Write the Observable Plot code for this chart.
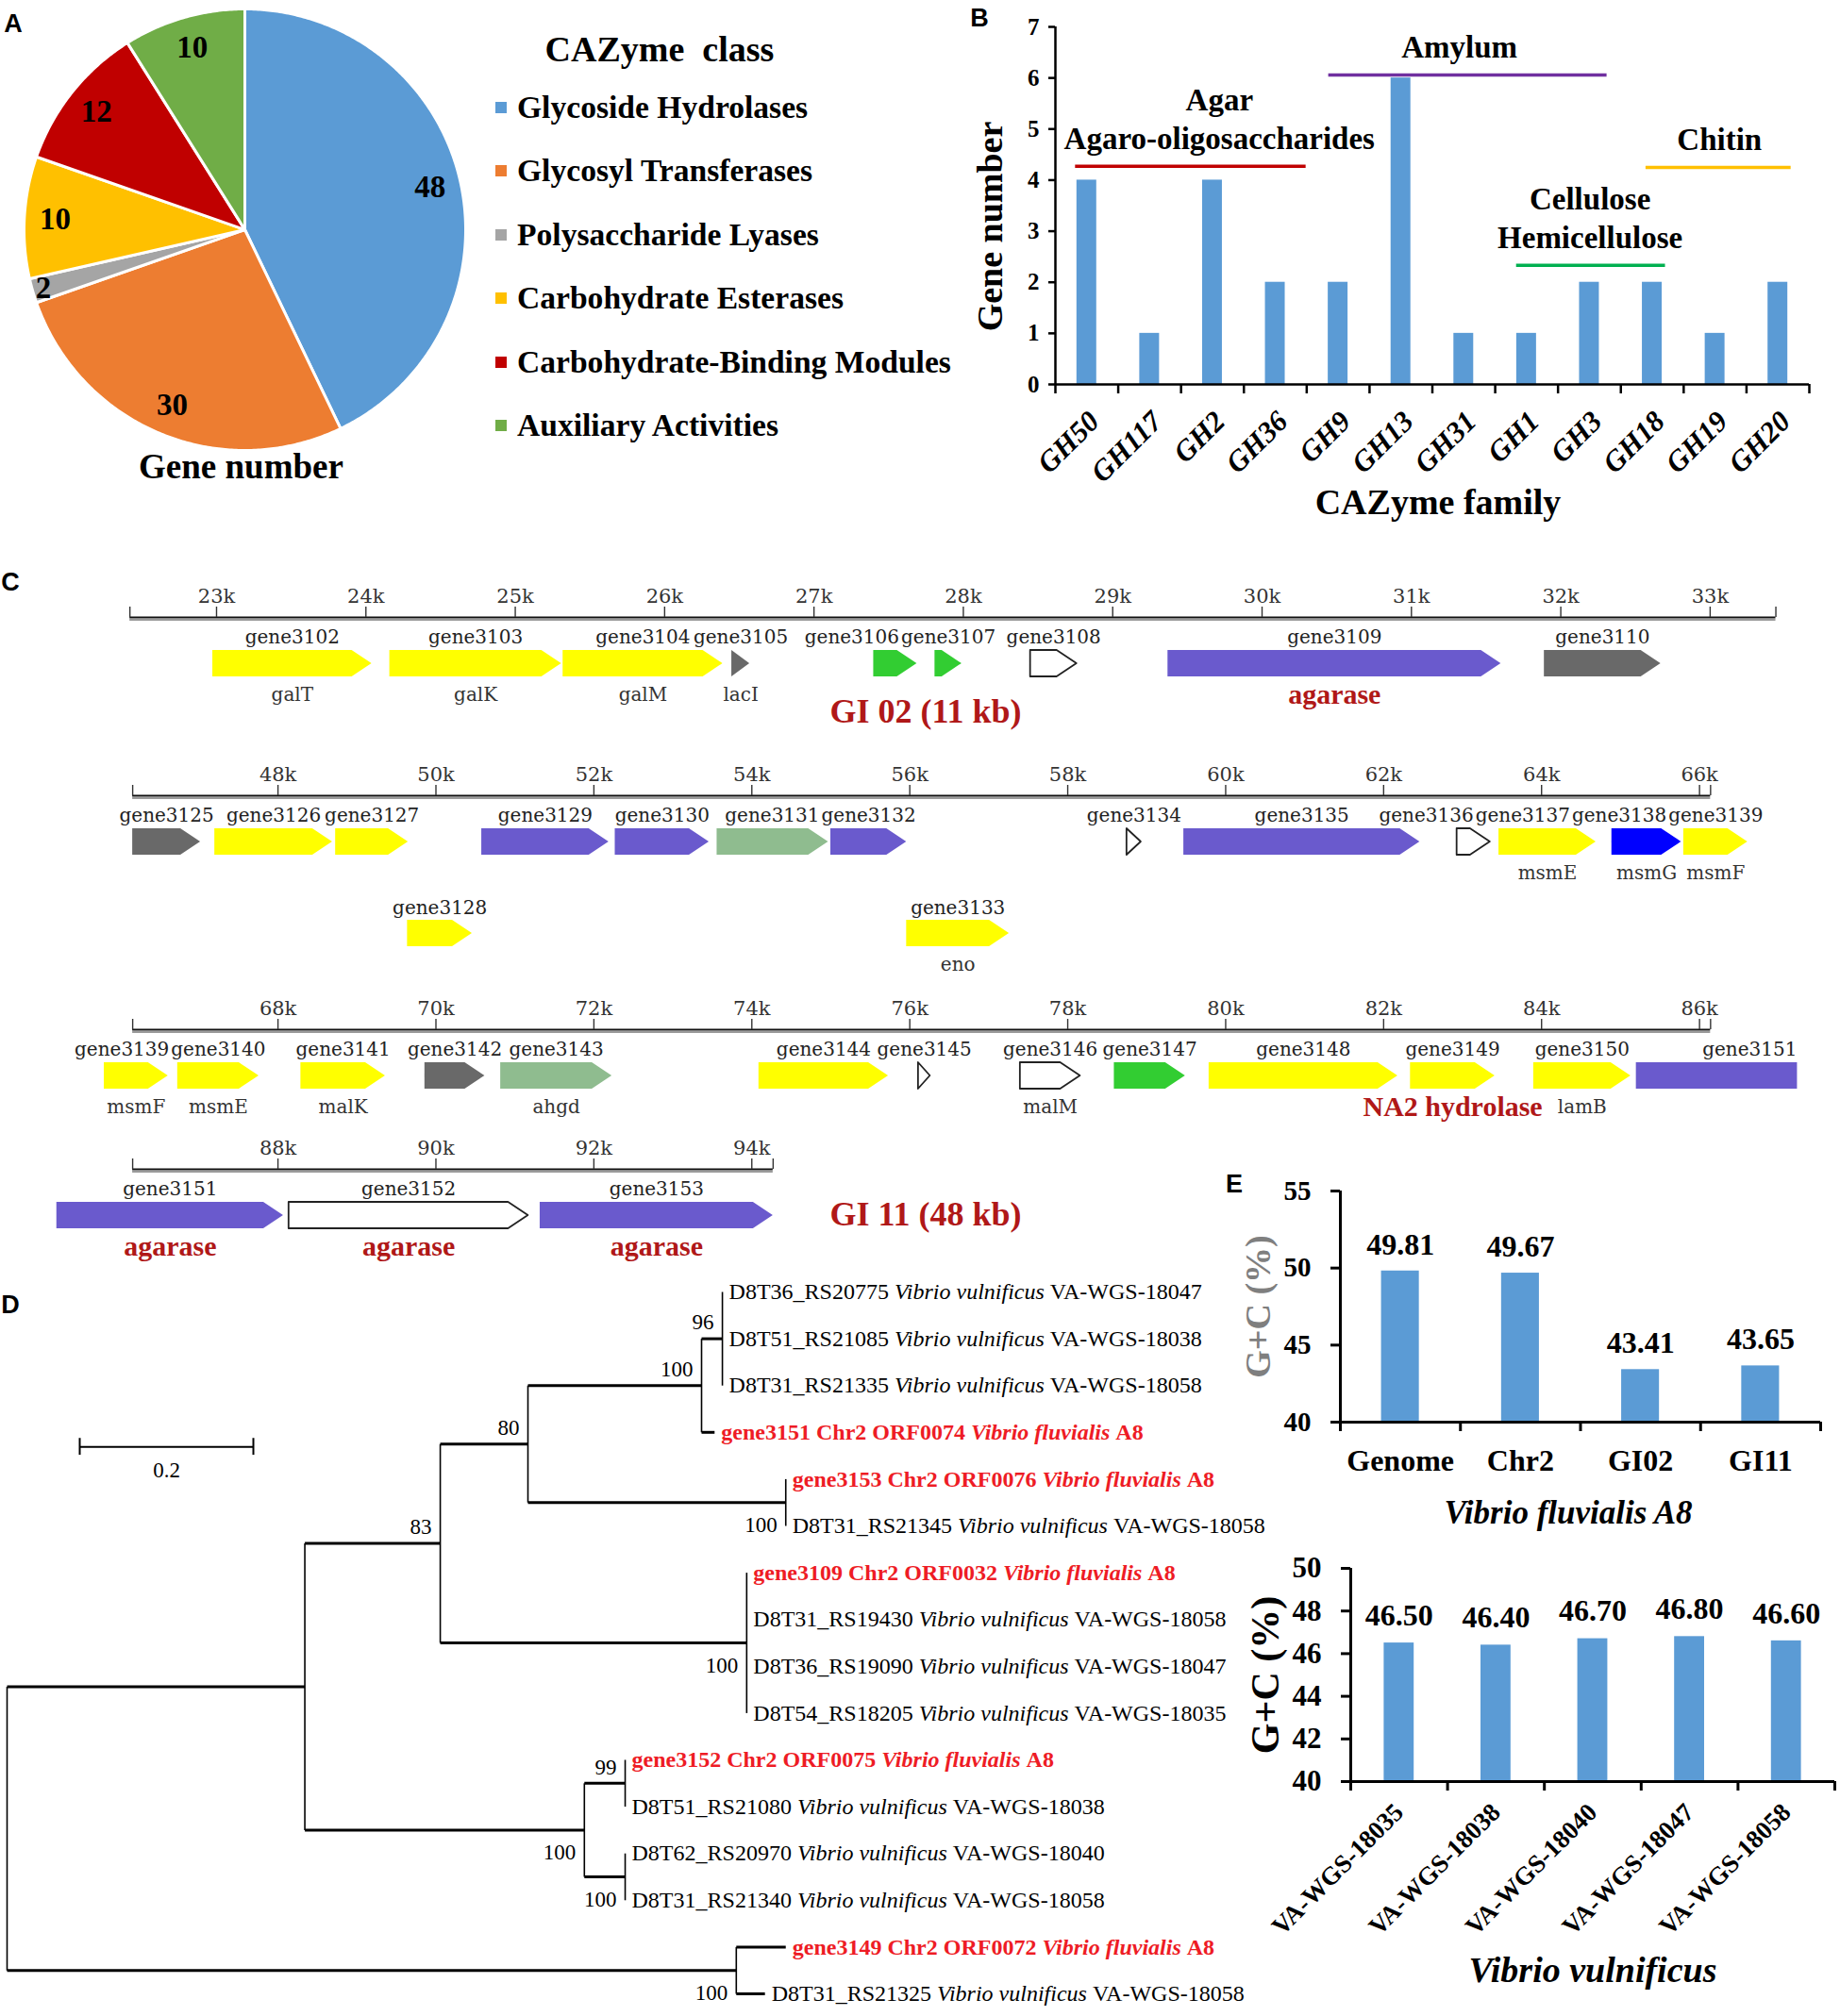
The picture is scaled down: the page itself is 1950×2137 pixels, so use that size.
<!DOCTYPE html>
<html><head><meta charset="utf-8">
<script src="https://cdn.jsdelivr.net/npm/d3@7"></script>
<script src="https://cdn.jsdelivr.net/npm/@observablehq/plot@0.6"></script>
<style>
html,body{margin:0;padding:0;background:#fff;}
#page{position:relative;width:1950px;height:2137px;overflow:hidden;background:#fff;}
</style></head><body><div id="page"></div>
<script>
// ======================= DATA =======================
// Panel A – CAZyme classes
const cazyClasses = ["Glycoside Hydrolases","Glycosyl Transferases","Polysaccharide Lyases","Carbohydrate Esterases","Carbohydrate-Binding Modules","Auxiliary Activities"];
const cazyCounts = [48,30,2,10,12,10];

// Panel B – GH families
const ghFamilies = ["GH50","GH117","GH2","GH36","GH9","GH13","GH31","GH1","GH3","GH18","GH19","GH20"];
const ghCounts = [4,1,4,2,2,6,1,1,2,2,1,2];
const yTicksB = [0,1,2,3,4,5,6,7];
const substrateNames = [["Agar","Agaro-oligosaccharides"],["Amylum"],["Cellulose","Hemicellulose"],["Chitin"]];
const substrateFrom = [0.32,4.35,7.34,9.40];   // in family-index units
const substrateTo = [3.99,8.78,9.71,11.71];
const substrateLevel = [4.27,6.06,2.33,4.25];  // gene-number units
const substrateTextX = [2.61,6.43,8.51,10.57];

// Panel C – genomic islands (kb)
const rulerStart = [22.42,46.16,66.16,86.16];
const rulerEnd = [33.44,66.14,86.14,94.27];
const rulerStep = [1,2,2,2];
// [name, start kb, end kb, group, lane, product]
const giGenes = [
 ["gene3102",22.975,24.04,"Y",0,"galT"],
 ["gene3103",24.16,25.31,"Y",0,"galK"],
 ["gene3104",25.32,26.39,"Y",0,"galM"],
 ["gene3105",26.45,26.57,"D",0,"lacI"],
 ["gene3106",27.40,27.69,"G",0,""],
 ["gene3107",27.81,27.99,"G",0,""],
 ["gene3108",28.45,28.76,"W",0,""],
 ["gene3109",29.37,31.60,"P",0,"agarase"],
 ["gene3110",31.89,32.67,"D",0,""],
 ["gene3125",46.16,47.02,"D",0,""],
 ["gene3126",47.20,48.69,"Y",0,""],
 ["gene3127",48.73,49.65,"Y",0,""],
 ["gene3128",49.64,50.46,"Y",1,""],
 ["gene3129",50.58,52.19,"P",0,""],
 ["gene3130",52.27,53.46,"P",0,""],
 ["gene3131",53.56,54.97,"S",0,""],
 ["gene3132",55.00,55.96,"P",0,""],
 ["gene3133",55.96,57.26,"Y",1,"eno"],
 ["gene3134",58.75,58.93,"W",0,""],
 ["gene3135",59.47,62.46,"P",0,""],
 ["gene3136",62.93,63.35,"W",0,""],
 ["gene3137",63.46,64.69,"Y",0,"msmE"],
 ["gene3138",64.89,65.77,"B",0,"msmG"],
 ["gene3139",65.80,66.61,"Y",0,"msmF"],
 ["gene3140",66.73,67.76,"Y",0,"msmE"],
 ["gene3141",68.29,69.36,"Y",0,"malK"],
 ["gene3142",69.86,70.62,"D",0,""],
 ["gene3143",70.82,72.23,"S",0,"ahgd"],
 ["gene3144",74.09,75.73,"Y",0,""],
 ["gene3145",76.11,76.26,"W",0,""],
 ["gene3146",77.40,78.16,"W",0,"malM"],
 ["gene3147",78.59,79.49,"G",0,""],
 ["gene3148",79.79,82.18,"Y",0,""],
 ["gene3149",82.34,83.41,"Y",0,"NA2 hydrolase"],
 ["gene3150",83.90,85.13,"Y",0,"lamB"],
 ["gene3151",85.20,88.07,"P",0,"agarase"],
 ["gene3152",88.14,91.17,"W",0,"agarase"],
 ["gene3153",91.32,94.27,"P",0,"agarase"]
];
const islandTitles = ["GI 02 (11 kb)","GI 11 (48 kb)"];

// Panel D – phylogeny
const leafLocus = ["D8T36_RS20775","D8T51_RS21085","D8T31_RS21335","gene3151 Chr2 ORF0074","gene3153 Chr2 ORF0076","D8T31_RS21345","gene3109 Chr2 ORF0032","D8T31_RS19430","D8T36_RS19090","D8T54_RS18205","gene3152 Chr2 ORF0075","D8T51_RS21080","D8T62_RS20970","D8T31_RS21340","gene3149 Chr2 ORF0072","D8T31_RS21325"];
const leafSpecies = ["Vibrio vulnificus","Vibrio vulnificus","Vibrio vulnificus","Vibrio fluvialis","Vibrio fluvialis","Vibrio vulnificus","Vibrio fluvialis","Vibrio vulnificus","Vibrio vulnificus","Vibrio vulnificus","Vibrio fluvialis","Vibrio vulnificus","Vibrio vulnificus","Vibrio vulnificus","Vibrio fluvialis","Vibrio vulnificus"];
const leafStrain = ["VA-WGS-18047","VA-WGS-18038","VA-WGS-18058","A8","A8","VA-WGS-18058","A8","VA-WGS-18058","VA-WGS-18047","VA-WGS-18035","A8","VA-WGS-18038","VA-WGS-18040","VA-WGS-18058","A8","VA-WGS-18058"];
// l = branch length, b = bootstrap, leaf = leaf index
const phyloTree = {l:0, c:[
  {l:0.343, c:[
    {l:0.156, b:83, c:[
      {l:0.101, b:80, c:[
        {l:0.200, b:100, c:[
          {l:0.024, b:96, c:[{leaf:0,l:0},{leaf:1,l:0},{leaf:2,l:0}]},
          {leaf:3, l:0.015}
        ]},
        {l:0.297, b:100, c:[{leaf:4,l:0},{leaf:5,l:0}]}
      ]},
      {l:0.353, b:100, c:[{leaf:6,l:0},{leaf:7,l:0},{leaf:8,l:0},{leaf:9,l:0}]}
    ]},
    {l:0.322, b:100, c:[
      {l:0.047, b:99, c:[{leaf:10,l:0},{leaf:11,l:0}]},
      {l:0.047, b:100, c:[{leaf:12,l:0},{leaf:13,l:0}]}
    ]}
  ]},
  {l:0.840, b:100, c:[{leaf:14,l:0.057},{leaf:15,l:0.033}]}
]};
const scaleBarLength = 0.2;

// Panel E – G+C content
const a8Regions = ["Genome","Chr2","GI02","GI11"];
const a8GC = [49.81,49.67,43.41,43.65];
const yTicksE1 = [40,45,50,55];
const vvStrains = ["VA-WGS-18035","VA-WGS-18038","VA-WGS-18040","VA-WGS-18047","VA-WGS-18058"];
const vvGC = [46.50,46.40,46.70,46.80,46.60];
const yTicksE2 = [40,42,44,46,48,50];

// ======================= STYLE =======================
const SERIF = "Liberation Serif";
const BLUE = "#5B9BD5";
const DARKRED = "#B01818";
const cazyColors = ["#5B9BD5","#ED7D31","#A5A5A5","#FFC000","#C00000","#70AD47"];
const substrateColors = ["#C00000","#7030A0","#00B050","#FFC000"];
const geneColors = {Y:"#FFFF00",P:"#6A5ACD",D:"#696969",G:"#32CD32",S:"#8FBC8F",B:"#0000FF",W:"#FFFFFF"};
const INSET = 0.3425;
const ST = {background:"transparent",overflow:"visible",maxWidth:"none",fontFamily:SERIF,color:"#000"};
const intFmt = d => String(d);

const page = document.getElementById("page");
function place(el,left,top){el.style.position="absolute";el.style.left=left+"px";el.style.top=top+"px";page.appendChild(el);}
function htmlText(str,x,y,css,anchor){const d=document.createElement("div");d.textContent=str;
  Object.assign(d.style,{position:"absolute",left:x+"px",top:y+"px",transform:anchor==="start"?"translate(0,-50%)":"translate(-50%,-50%)",whiteSpace:"pre",lineHeight:"1",fontFamily:SERIF,fontWeight:"bold"},css||{});page.appendChild(d);return d;}
const ctx = document.createElement("canvas").getContext("2d");
function tw(s,font){ctx.font=font;return ctx.measureText(s).width;}

// ======================= PANEL A =======================
{
  const W=520,H=520,cx=259,cy=243,R=234;
  const arcs=d3.pie().sort(null)(cazyCounts);
  const pts=[];
  arcs.forEach((a,k)=>{
    const n=Math.max(2,Math.ceil((a.endAngle-a.startAngle)/0.01));
    pts.push({k,x:0,y:0});
    for(let j=0;j<=n;j++){const t=a.startAngle+(a.endAngle-a.startAngle)*j/n;pts.push({k,x:Math.sin(t),y:-Math.cos(t)});}
    pts.push({k,x:0,y:0});
  });
  const labs=arcs.map((a,k)=>{const m=(a.startAngle+a.endAngle)/2,f=cazyCounts[k]<5?0.95:0.86;return {x:f*Math.sin(m),y:-f*Math.cos(m),t:String(cazyCounts[k])};});
  const p=Plot.plot({width:W,height:H,margin:0,style:ST,
    x:{domain:[-cx/R,(W-cx)/R],range:[0,W],axis:null},
    y:{domain:[-cy/R,(H-cy)/R],range:[0,H],axis:null},
    color:{type:"identity"},
    marks:[
      Plot.line(pts,{x:"x",y:"y",z:"k",fill:d=>cazyColors[d.k],stroke:"#fff",strokeWidth:3,strokeLinejoin:"round",curve:"linear"}),
      Plot.text(labs,{x:"x",y:"y",text:"t",fontSize:33,fontWeight:"bold",fontFamily:SERIF,fill:"#000"}),
      Plot.text(["Gene number"],{x:0,y:1,text:d=>d,dy:18,dx:-4,fontSize:37,fontWeight:"bold",fontFamily:SERIF})
    ]});
  place(p,0,0);
  // legend
  htmlText("CAZyme  class",699,52,{fontSize:"38px"});
  cazyClasses.forEach((c,i)=>{
    const y=114+i*67.4;
    const sw=document.createElement("div");
    Object.assign(sw.style,{position:"absolute",left:"525px",top:(y-6)+"px",width:"12px",height:"12px",background:cazyColors[i]});
    page.appendChild(sw);
    htmlText(c,548,y,{fontSize:"33.6px"},"start");
  });
}

// ======================= PANEL B =======================
{
  const n=ghFamilies.length;
  const rows=ghFamilies.map((f,i)=>({f,i,v:ghCounts[i]}));
  const subs=substrateNames.map((lines,k)=>({k,s:substrateFrom[k],e:substrateTo[k],lv:substrateLevel[k],tx:substrateTextX[k],col:substrateColors[k],lines}));
  const lastLine=subs.map(d=>({x:d.tx,y:d.lv,t:d.lines[d.lines.length-1]}));
  const prevLine=subs.filter(d=>d.lines.length>1).map(d=>({x:d.tx,y:d.lv,t:d.lines[0]}));
  const txt={fontFamily:SERIF,fontWeight:"bold"};
  const p=Plot.plot({width:930,height:560,marginLeft:98,marginRight:33,marginTop:28,marginBottom:153,style:ST,
    x:{domain:[0,n],axis:null},y:{domain:[0,7]},color:{type:"identity"},
    marks:[
      Plot.rect(rows,{x1:d=>d.i+INSET,x2:d=>d.i+1-INSET,y1:0,y2:"v",fill:BLUE}),
      Plot.ruleX([0],{y1:0,y2:7,strokeWidth:2.5}),
      Plot.ruleY([0],{x1:0,x2:n,strokeWidth:2.5}),
      Plot.axisY(yTicksB,{anchor:"left",tickSize:7,tickPadding:10,tickFormat:intFmt,strokeWidth:2.5,fontSize:25,...txt,label:null}),
      Plot.axisX(d3.range(0,n+1),{anchor:"bottom",tickSize:10,tickFormat:()=>"",strokeWidth:2.5,label:null}),
      Plot.text(rows,{x:d=>d.i+0.5,y:0,text:"f",rotate:-45,textAnchor:"end",lineAnchor:"middle",dx:8,dy:34,fontSize:31,fontStyle:"italic",...txt}),
      Plot.ruleY(subs,{y:"lv",x1:"s",x2:"e",stroke:"col",strokeWidth:3.5}),
      Plot.text(lastLine,{x:"x",y:"y",text:"t",dy:-29,fontSize:33,...txt}),
      Plot.text(prevLine,{x:"x",y:"y",text:"t",dy:-70,fontSize:33,...txt}),
      Plot.text(["Gene number"],{frameAnchor:"left",textAnchor:"middle",lineAnchor:"middle",rotate:-90,dx:-69,dy:22,fontSize:38,...txt}),
      Plot.text(["CAZyme family"],{frameAnchor:"bottom",textAnchor:"middle",lineAnchor:"middle",dx:6,dy:125,fontSize:38,...txt})
    ]});
  place(p,1020,0);
}

// ======================= PANEL C =======================
{
  const TRACK_LAYOUT=[
    {refKb:23,refPx:229,ppk:158.3,rulerY:654},
    {refKb:48,refPx:294,ppk:83.7,rulerY:843},
    {refKb:68,refPx:294,ppk:83.7,rulerY:1091},
    {refKb:88,refPx:294,ppk:83.7,rulerY:1239}
  ];
  const GENE_FS=20, GENE_FONT=GENE_FS+"px 'DejaVu Serif'";
  const genes=giGenes.map(([name,s,e,grp,lane,prod])=>({name,s,e,grp,lane,prod}));
  const laneY=[49,146],laneLab=[21,119],laneProd=[82,179];
  rulerStart.forEach((rs,ti)=>{
    const re=rulerEnd[ti],step=rulerStep[ti],L=TRACK_LAYOUT[ti],vm=1.1;
    const vs=rs-vm,ve=re+vm;
    const left=L.refPx+(vs-L.refKb)*L.ppk,W=(ve-vs)*L.ppk,top=L.rulerY-60,H=260;
    const tg=genes.filter(g=>g.e>rs&&g.s<re);
    const tipKb=21/L.ppk,hh=14;
    const poly=[];
    for(const g of tg){
      const yc=laneY[g.lane],ts=Math.max(g.s,g.e-tipKb);
      poly.push({id:g.name,grp:g.grp,x:g.s,y1:yc-hh,y2:yc+hh});
      if(ts>g.s)poly.push({id:g.name,grp:g.grp,x:ts,y1:yc-hh,y2:yc+hh});
      poly.push({id:g.name,grp:g.grp,x:g.e,y1:yc,y2:yc});
    }
    const labs=[];
    for(const lane of [0,1]){
      const items=tg.filter(g=>g.lane===lane).map(g=>({name:g.name,lane,c:(g.s+g.e)/2,w:(tw(g.name,GENE_FONT)+2)/L.ppk})).sort((a,b)=>a.c-b.c);
      for(let i=items.length-2;i>=0;i--){const lim=items[i+1].c-items[i+1].w/2;if(items[i].c+items[i].w/2>lim)items[i].c=lim-items[i].w/2;}
      labs.push(...items);
    }
    const prods=tg.filter(g=>g.prod&&g.e<=ve).map(g=>({t:g.prod,lane:g.lane,c:(g.s+g.e)/2,red:/ase$/.test(g.prod)}));
    const ticks=d3.range(Math.ceil(rs/step-1e-9)*step,re+1e-9,step);
    const p=Plot.plot({width:W,height:H,margin:0,style:ST,
      x:{domain:[vs,ve],range:[0,W],axis:null},y:{domain:[-60,200],range:[0,H],axis:null},color:{type:"identity"},
      marks:[
        Plot.ruleY([0],{x1:rs,x2:re,dy:2.5,stroke:"#9a9a9a",strokeWidth:2}),
        Plot.ruleY([0],{x1:rs,x2:re,stroke:"#111",strokeWidth:2.2}),
        Plot.ruleX([rs,...ticks,re],{y1:-11,y2:0,stroke:"#333",strokeWidth:1.4}),
        Plot.text(ticks,{x:d=>d,y:-22,text:d=>d+"k",fontFamily:"DejaVu Serif",fontSize:21,fill:"#333"}),
        Plot.area(poly.filter(d=>d.grp!=="W"),{x1:"x",y1:"y1",y2:"y2",z:"id",fill:d=>geneColors[d.grp],clip:true,curve:"linear"}),
        Plot.area(poly.filter(d=>d.grp==="W"),{x1:"x",y1:"y1",y2:"y2",z:"id",fill:"#fff",stroke:"#222",strokeWidth:1.8,clip:true,curve:"linear"}),
        Plot.text(labs,{x:"c",y:d=>laneLab[d.lane],text:"name",fontFamily:"DejaVu Serif",fontSize:GENE_FS,fill:"#222"}),
        Plot.text(prods.filter(d=>!d.red),{x:"c",y:d=>laneProd[d.lane],text:"t",fontFamily:"DejaVu Serif",fontSize:20,fill:"#333"}),
        Plot.text(prods.filter(d=>d.red),{x:"c",y:d=>laneProd[d.lane],text:"t",fontFamily:SERIF,fontWeight:"bold",fontSize:30,fill:DARKRED})
      ]});
    place(p,left,top);
  });
  htmlText(islandTitles[0],981,754,{fontSize:"36px",color:DARKRED});
  htmlText(islandTitles[1],981,1287,{fontSize:"36px",color:DARKRED});
}

// ======================= PANEL D =======================
{
  const PXU=920,GAP=7;
  const nodes=[];
  (function lay(node,depth,parent,idx){
    node.depth=depth+node.l;node.parent=parent;node.idx=idx;nodes.push(node);
    if(node.c){node.c.forEach((ch,j)=>lay(ch,node.depth,node,j));node.y=(node.c[0].y+node.c[node.c.length-1].y)/2;}
    else node.y=node.leaf;
  })(phyloTree,0,null,0);
  const horiz=nodes.filter(d=>d.parent).map(d=>({x1:d.parent.depth,x2:d.depth,y:d.y}));
  const vert=nodes.filter(d=>d.c).map(d=>({x:d.depth,y1:d.c[0].y,y2:d.c[d.c.length-1].y}));
  const boot=nodes.filter(d=>d.b!=null);
  const parts=[];
  nodes.filter(d=>d.leaf!=null).forEach(d=>{
    const i=d.leaf,a8=/fluvialis/.test(leafSpecies[i]);
    const fs=24,w=a8?"bold ":"";
    const f1=`${w}${fs}px '${SERIF}'`,f2=`italic ${w}${fs}px '${SERIF}'`;
    const o1=tw(leafLocus[i]+" ",f1),o2=o1+tw(leafSpecies[i],f2)+tw(" ",f1);
    parts.push({a8,it:false,t:leafLocus[i],x:d.depth+GAP/PXU,y:d.y});
    parts.push({a8,it:true,t:leafSpecies[i],x:d.depth+(GAP+o1)/PXU,y:d.y});
    parts.push({a8,it:false,t:leafStrain[i],x:d.depth+(GAP+o2)/PXU,y:d.y});
  });
  const sbx=0.0837,sby=3.31;
  const lt=(f)=>({fontFamily:SERIF,textAnchor:"start",...f});
  const p=Plot.plot({width:1350,height:797,margin:0,style:ST,
    x:{domain:[0,(1350-7)/PXU],range:[7,1350],axis:null},y:{domain:[0,15],range:[29,773],axis:null},
    marks:[
      Plot.link(horiz,{x1:"x1",x2:"x2",y1:"y",y2:"y",stroke:"#000",strokeWidth:3}),
      Plot.link(vert,{x1:"x",x2:"x",y1:"y1",y2:"y2",stroke:"#000",strokeWidth:1.6}),
      Plot.text(boot.filter(d=>d.idx===0),{x:"depth",y:"y",text:"b",textAnchor:"end",dx:-9,dy:-17,fontSize:23,fontFamily:SERIF}),
      Plot.text(boot.filter(d=>d.idx>0),{x:"depth",y:"y",text:"b",textAnchor:"end",dx:-9,dy:24,fontSize:23,fontFamily:SERIF}),
      Plot.text(parts.filter(d=>!d.a8&&!d.it),{x:"x",y:"y",text:"t",...lt({fontSize:24,fill:"#000"})}),
      Plot.text(parts.filter(d=>!d.a8&&d.it),{x:"x",y:"y",text:"t",...lt({fontSize:24,fontStyle:"italic",fill:"#000"})}),
      Plot.text(parts.filter(d=>d.a8&&!d.it),{x:"x",y:"y",text:"t",...lt({fontSize:24,fontWeight:"bold",fill:"#EE1C25"})}),
      Plot.text(parts.filter(d=>d.a8&&d.it),{x:"x",y:"y",text:"t",...lt({fontSize:24,fontWeight:"bold",fontStyle:"italic",fill:"#EE1C25"})}),
      Plot.link([{a:sbx,b:sbx+scaleBarLength}],{x1:"a",x2:"b",y1:sby,y2:sby,strokeWidth:2}),
      Plot.ruleX([sbx,sbx+scaleBarLength],{y1:sby-0.18,y2:sby+0.18,strokeWidth:2}),
      Plot.text([scaleBarLength],{x:sbx+scaleBarLength/2,y:sby,text:d=>String(d),dy:25,fontSize:23,fontFamily:SERIF})
    ]});
  place(p,0,1340);
}

// ======================= PANEL E =======================
{
  const txt={fontFamily:SERIF,fontWeight:"bold"};
  const rows=a8Regions.map((c,i)=>({c,i,v:a8GC[i]}));
  const p=Plot.plot({width:650,height:420,marginLeft:120,marginRight:21,marginTop:32,marginBottom:143,style:ST,
    x:{domain:[0,rows.length],axis:null},y:{domain:[40,55]},
    marks:[
      Plot.rect(rows,{x1:d=>d.i+INSET,x2:d=>d.i+1-INSET,y1:40,y2:"v",fill:BLUE}),
      Plot.ruleX([0],{y1:40,y2:55,strokeWidth:3}),
      Plot.ruleY([40],{x1:0,x2:rows.length,strokeWidth:3}),
      Plot.axisY(yTicksE1,{anchor:"left",tickSize:10,tickPadding:21,tickFormat:intFmt,strokeWidth:3,fontSize:29,...txt,label:null}),
      Plot.axisX(d3.range(rows.length+1),{anchor:"bottom",tickSize:10,tickFormat:()=>"",strokeWidth:3,label:null}),
      Plot.text(rows,{x:d=>d.i+0.5,y:"v",text:d=>d.v.toFixed(2),dy:-28,fontSize:32,...txt}),
      Plot.text(rows,{x:d=>d.i+0.5,y:40,text:"c",dy:41,fontSize:32,...txt}),
      Plot.text(["G+C (%)"],{frameAnchor:"left",textAnchor:"middle",lineAnchor:"middle",rotate:-90,dx:-87,fontSize:38,fill:"#7F7F7F",...txt}),
      Plot.text(["Vibrio fluvialis A8"],{frameAnchor:"bottom",textAnchor:"middle",lineAnchor:"middle",dx:-13,dy:96,fontSize:35,fontStyle:"italic",...txt})
    ]});
  place(p,1300,1230);

  const rows2=vvStrains.map((c,i)=>({c,i,v:vvGC[i]}));
  const p2=Plot.plot({width:650,height:507,marginLeft:131,marginRight:6,marginTop:32,marginBottom:249,style:ST,
    x:{domain:[0,rows2.length],axis:null},y:{domain:[40,50]},
    marks:[
      Plot.rect(rows2,{x1:d=>d.i+0.345,x2:d=>d.i+1-0.345,y1:40,y2:"v",fill:BLUE}),
      Plot.ruleX([0],{y1:40,y2:50,strokeWidth:3}),
      Plot.ruleY([40],{x1:0,x2:rows2.length,strokeWidth:3}),
      Plot.axisY(yTicksE2,{anchor:"left",tickSize:10,tickPadding:21,tickFormat:intFmt,strokeWidth:3,fontSize:31,...txt,label:null}),
      Plot.axisX(d3.range(rows2.length+1),{anchor:"bottom",tickSize:10,tickFormat:()=>"",strokeWidth:3,label:null}),
      Plot.text(rows2,{x:d=>d.i+0.5,y:"v",text:d=>d.v.toFixed(2),dy:-29,fontSize:32,...txt}),
      Plot.text(rows2,{x:d=>d.i+0.5,y:40,text:"c",rotate:-45,textAnchor:"end",lineAnchor:"middle",dx:0,dy:28,fontSize:27,...txt}),
      Plot.text(["G+C (%)"],{frameAnchor:"left",textAnchor:"middle",lineAnchor:"middle",rotate:-90,dx:-90,fontSize:42,fill:"#000",...txt}),
      Plot.text(["Vibrio vulnificus"],{frameAnchor:"bottom",textAnchor:"middle",lineAnchor:"middle",dx:0,dy:200,fontSize:38,fontStyle:"italic",...txt})
    ]});
  place(p2,1300,1630);
}

// ======================= PANEL LETTERS =======================
[["A",14,25],["B",1038,19],["C",11,617],["D",11,1383],["E",1308,1255]].forEach(([t,x,y])=>{
  htmlText(t,x,y,{fontFamily:"'Liberation Sans Narrow','Liberation Sans',Arial,sans-serif",fontSize:"27px"});
});
</script></body></html>
